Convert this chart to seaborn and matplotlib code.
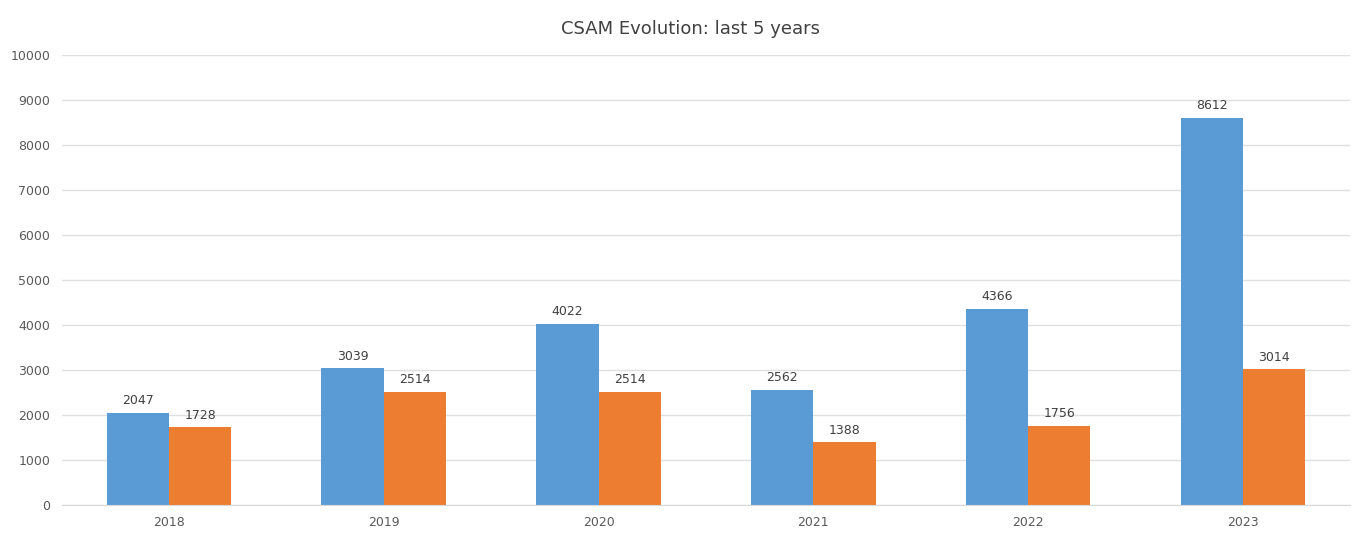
import numpy as np
import pandas as pd
import matplotlib
matplotlib.use('Agg')
import matplotlib.pyplot as plt
import seaborn as sns

years = ["2018", "2019", "2020", "2021", "2022", "2023"]
series_a = [2047, 3039, 4022, 2562, 4366, 8612]
series_b = [1728, 2514, 2514, 1388, 1756, 3014]
y_ticks = list(range(0, 10001, 1000))

df = pd.DataFrame({
    "year": years * 2,
    "value": series_a + series_b,
    "series": ["A"] * len(years) + ["B"] * len(years),
})

sns.set_style("white")
plt.rcParams['font.family'] = ['DejaVu Sans']

fig = plt.figure(figsize=(13.68, 5.36), dpi=100)
ax = fig.add_axes([0.045, 0.058, 0.942, 0.839])

ax = sns.barplot(
    data=df, x="year", y="value", hue="series",
    palette=["#5B9BD5", "#ED7D31"],
    width=0.58, gap=0, saturation=1, legend=False, linewidth=0, ax=ax,
)

for cont in ax.containers:
    ax.bar_label(cont, fmt="%d", padding=4, fontsize=9, color="#404040")

ax.set_ylim(0, 10000)
ax.set_yticks(y_ticks)
ax.tick_params(axis="both", labelsize=9, colors="#595959", length=0, pad=8)
ax.yaxis.grid(True, color="#E0E0E0", linewidth=1)
ax.set_axisbelow(True)
for s in ["top", "right", "left"]:
    ax.spines[s].set_visible(False)
ax.spines["bottom"].set_color("#D9D9D9")
ax.set_xlabel("")
ax.set_ylabel("")

fig.text(0.505, 0.945, "CSAM Evolution: last 5 years", ha="center", va="center",
         fontsize=13, color="#404040")

fig.savefig("out.png", dpi=100)
